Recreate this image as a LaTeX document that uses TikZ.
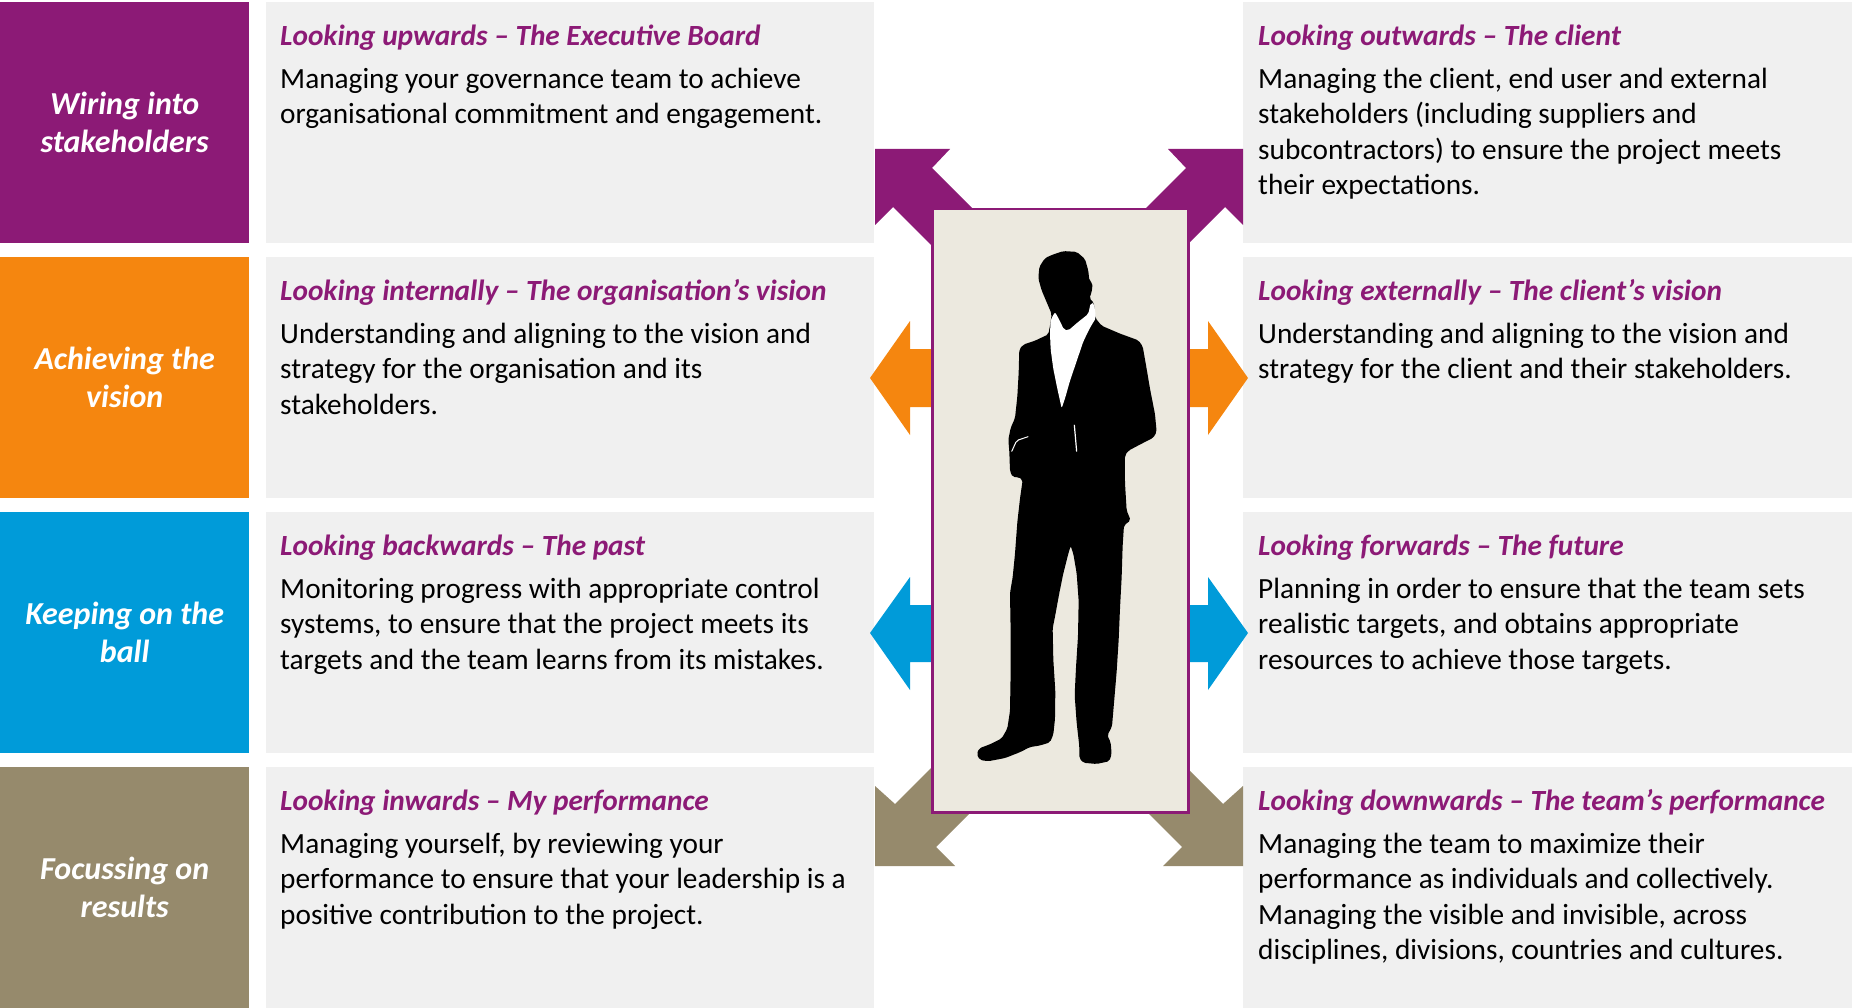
\documentclass[tikz,border=0pt]{standalone}
\usepackage{fontspec}
\setmainfont{Carlito}
\usetikzlibrary{positioning}
\definecolor{plum}{HTML}{8C1A76}
\definecolor{amber}{HTML}{F5860F}
\definecolor{sky}{HTML}{009BD9}
\definecolor{khaki}{HTML}{968A6C}
\definecolor{panel}{HTML}{F0F0F0}
\definecolor{paper}{HTML}{ECE9DF}
\newcommand{\hd}[1]{{\color{plum}\bfseries\itshape\strut #1}}

\tikzset{
  tab/.style={fill=#1, anchor=north west, inner sep=0pt, minimum width=249pt,
    minimum height=241pt, text=white, align=center,
    font=\fontsize{32}{38}\selectfont\bfseries\itshape},
  blurb/.style={anchor=north west, inner sep=0pt, align=left,
    font=\fontsize{29.3}{35.4}\selectfont},
}

\begin{document}
\begin{tikzpicture}[x=1pt,y=-1pt]
  \useasboundingbox (0,0) rectangle (1852,1008);

  % coloured tabs down the left edge
  \node[tab=plum]  (wiring)  at (0,2)   {Wiring into\\stakeholders};
  \node[tab=amber] (vision)  at (0,257) {Achieving the\\vision};
  \node[tab=sky]   (ball)    at (0,512) {Keeping on the\\ball};
  \node[tab=khaki] (results) at (0,767) {Focussing on\\results};

  % grey panels behind the texts
  \fill[panel] (266,2)   rectangle (874,243);  \fill[panel] (1243,2)   rectangle (1852,243);
  \fill[panel] (266,257) rectangle (874,498);  \fill[panel] (1243,257) rectangle (1852,498);
  \fill[panel] (266,512) rectangle (874,753);  \fill[panel] (1243,512) rectangle (1852,753);
  \fill[panel] (266,767) rectangle (874,1008); \fill[panel] (1243,767) rectangle (1852,1008);

  % arrows out of the frame (shafts run under it)
  \fill[plum]  (875,149) -- (950,149) -- (932,168) -- (1012,248) -- (973,287) -- (893,207) -- (875,225) -- cycle;   % up-left
  \fill[plum]  (1243,149) -- (1168,149) -- (1186,168) -- (1106,248) -- (1145,287) -- (1225,207) -- (1243,225) -- cycle; % up-right
  \fill[amber] (870,378) -- (910,321) -- (910,349) -- (960,349) -- (960,407) -- (910,407) -- (910,435) -- cycle;
  \fill[amber] (1248,378) -- (1208,321) -- (1208,349) -- (1160,349) -- (1160,407) -- (1208,407) -- (1208,435) -- cycle;
  \fill[sky]   (870,633) -- (910,577) -- (910,605) -- (960,605) -- (960,662) -- (910,662) -- (910,690) -- cycle;
  \fill[sky]   (1248,633) -- (1208,577) -- (1208,605) -- (1160,605) -- (1160,662) -- (1208,662) -- (1208,690) -- cycle;
  \fill[khaki] (875,866) -- (875,786) -- (895,804) -- (965,734) -- (1006,777) -- (936,847) -- (955,866) -- cycle;   % down-left
  \fill[khaki] (1243,866) -- (1243,786) -- (1223,804) -- (1153,734) -- (1112,777) -- (1182,847) -- (1163,866) -- cycle; % down-right

  % frame with the figure
  \node[draw=plum, line width=2.5pt, fill=paper, anchor=north west, inner sep=0pt,
        minimum width=256pt, minimum height=603pt] (frame) at (931,208) {};

  \begin{scope}[shift={(920,200)}, x=0.3333pt, y=-0.393pt, rounded corners=2pt]
    % suit silhouette
    \fill[black] (395,140) -- (430,130) -- (470,132) -- (495,150) -- (505,180) -- (508,205) -- (518,212)
      -- (515,235) -- (508,250) -- (522,262) -- (526,300) -- (545,320) -- (600,340) -- (655,357)
      -- (668,372) -- (678,420) -- (690,480) -- (705,545) -- (710,590) -- (700,605) -- (665,620)
      -- (625,638) -- (615,650) -- (615,720) -- (620,790) -- (632,815) -- (612,828) -- (608,880)
      -- (605,960) -- (600,1040) -- (596,1120) -- (590,1200) -- (582,1280) -- (576,1340) -- (562,1362)
      -- (572,1380) -- (575,1410) -- (568,1428) -- (530,1435) -- (490,1432) -- (478,1420) -- (478,1390)
      -- (470,1330) -- (464,1260) -- (468,1190) -- (474,1110) -- (476,1020) -- (470,950) -- (460,900)
      -- (452,880) -- (445,900) -- (430,950) -- (418,1000) -- (405,1060) -- (398,1090) -- (400,1170)
      -- (406,1250) -- (405,1320) -- (400,1360) -- (390,1380) -- (360,1388) -- (330,1392) -- (300,1405)
      -- (255,1420) -- (205,1428) -- (180,1425) -- (170,1410) -- (178,1395) -- (210,1385) -- (245,1370)
      -- (262,1345) -- (270,1300) -- (272,1200) -- (272,1100) -- (270,1000) -- (278,960) -- (285,900)
      -- (292,820) -- (300,760) -- (308,712) -- (295,705) -- (278,705) -- (270,690) -- (268,640)
      -- (265,610) -- (272,580) -- (285,555) -- (292,500) -- (296,440) -- (298,380) -- (310,368)
      -- (345,358) -- (385,342) -- (392,310) -- (395,290) -- (380,260) -- (365,230) -- (355,200)
      -- (358,170) -- (375,148) -- cycle;
    % shirt
    \fill[white] (392,305) -- (405,285) -- (418,305) -- (432,330) -- (445,332) -- (475,310) -- (505,290)
      -- (512,262) -- (522,262) -- (528,300) -- (510,325) -- (490,360) -- (470,410) -- (450,460)
      -- (435,505) -- (425,530) -- (412,480) -- (400,430) -- (392,380) -- (390,340) -- cycle;
    \draw[white, line width=1.2pt, rounded corners=0pt] (463,572) -- (470,640);          % pocket
    \draw[white, line width=1pt] (275,640) -- (290,612) -- (325,602);                    % hand
  \end{scope}

  % left column texts
  \node[blurb] (up) at (280,21) {\hd{Looking upwards – The Executive Board}\\[7.2pt]
    Managing your governance team to achieve\\
    organisational commitment and engagement.};
  \node[blurb] (int) at (280,276) {\hd{Looking internally – The organisation’s vision}\\[7.2pt]
    Understanding and aligning to the vision and\\
    strategy for the organisation and its\\
    stakeholders.};
  \node[blurb] (back) at (280,531) {\hd{Looking backwards – The past}\\[7.2pt]
    Monitoring progress with appropriate control\\
    systems, to ensure that the project meets its\\
    targets and the team learns from its mistakes.};
  \node[blurb] (in) at (280,786) {\hd{Looking inwards – My performance}\\[7.2pt]
    Managing yourself, by reviewing your\\
    performance to ensure that your leadership is a\\
    positive contribution to the project.};

  % right column texts
  \node[blurb] (out) at (1258,21) {\hd{Looking outwards – The client}\\[7.2pt]
    Managing the client, end user and external\\
    stakeholders (including suppliers and\\
    subcontractors) to ensure the project meets\\
    their expectations.};
  \node[blurb] (ext) at (1258,276) {\hd{Looking externally – The client’s vision}\\[7.2pt]
    Understanding and aligning to the vision and\\
    strategy for the client and their stakeholders.};
  \node[blurb] (fwd) at (1258,531) {\hd{Looking forwards – The future}\\[7.2pt]
    Planning in order to ensure that the team sets\\
    realistic targets, and obtains appropriate\\
    resources to achieve those targets.};
  \node[blurb] (down) at (1258,786) {\hd{Looking downwards – The team’s performance}\\[7.2pt]
    Managing the team to maximize their\\
    performance as individuals and collectively.\\
    Managing the visible and invisible, across\\
    disciplines, divisions, countries and cultures.};
\end{tikzpicture}
\end{document}
